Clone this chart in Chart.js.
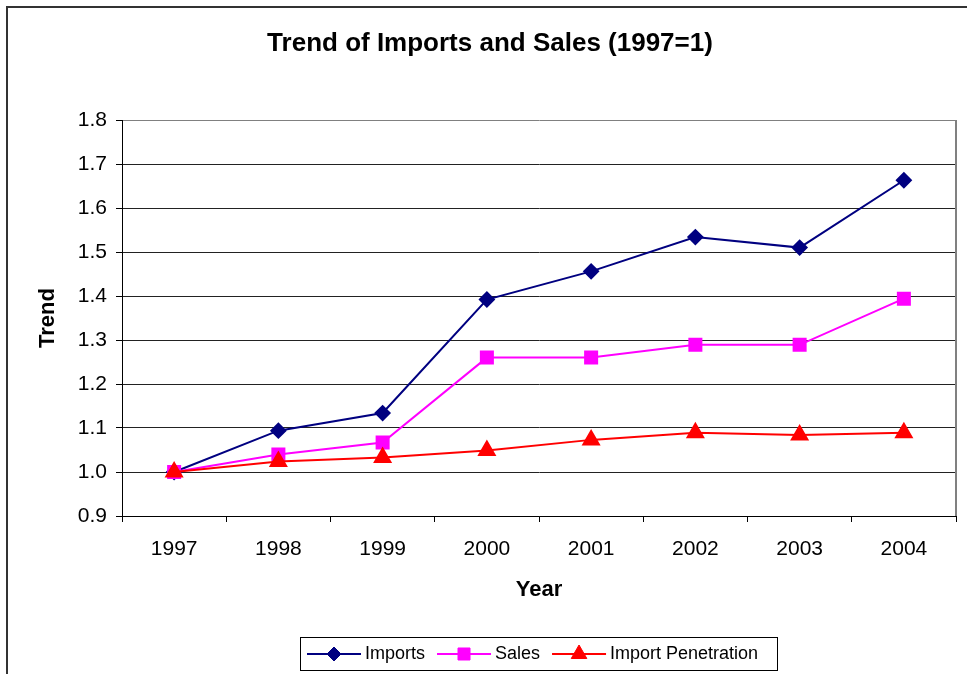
<!DOCTYPE html>
<html>
<head>
<meta charset="utf-8">
<script src="https://cdn.jsdelivr.net/npm/chart.js@4"></script>
<style>
  html, body { margin: 0; padding: 0; background: #fff; }
  canvas { display: block; }
</style>
</head>
<body>
<canvas id="trend-chart" width="967" height="674"></canvas>
<script>
var chartTitle = "Trend of Imports and Sales (1997=1)";
var years = ["1997", "1998", "1999", "2000", "2001", "2002", "2003", "2004"]; // categories
var imports = [1.0, 1.094, 1.134, 1.392, 1.456, 1.534, 1.51, 1.663];
var sales = [1.0, 1.04, 1.067, 1.26, 1.26, 1.289, 1.289, 1.394];
var penetration = [1.0, 1.024, 1.033, 1.049, 1.073, 1.089, 1.084, 1.089];
var yTicks = [0.9, 1.0, 1.1, 1.2, 1.3, 1.4, 1.5, 1.6, 1.7, 1.8];

var fontFamily = "'Liberation Sans', Arial, sans-serif";

// outer border, title, plot-area right edge and the excel-like legend box
var decorations = {
    id: "decorations",
    beforeDraw: function (chart) {
        var ctx = chart.ctx;
        ctx.save();
        ctx.fillStyle = "#fff";
        ctx.fillRect(0, 0, chart.width, chart.height);
        ctx.strokeStyle = "#333";
        ctx.lineWidth = 2;
        ctx.beginPath();
        ctx.moveTo(7, chart.height + 2);
        ctx.lineTo(7, 7);
        ctx.lineTo(chart.width + 2, 7);
        ctx.stroke();
        ctx.restore();
    },
    afterDraw: function (chart) {
        var ctx = chart.ctx;
        var area = chart.chartArea;
        ctx.save();

        // right edge of plot area
        ctx.strokeStyle = "#808080";
        ctx.lineWidth = 2;
        ctx.beginPath();
        ctx.moveTo(area.right, area.top);
        ctx.lineTo(area.right, area.bottom);
        ctx.stroke();

        // title
        ctx.fillStyle = "#000";
        ctx.font = "bold 26px " + fontFamily;
        ctx.textAlign = "center";
        ctx.textBaseline = "middle";
        ctx.fillText(chartTitle, 490, 44);

        // legend
        ctx.strokeStyle = "#000";
        ctx.lineWidth = 1;
        ctx.strokeRect(300.5, 637.5, 477, 33);
        ctx.font = "18px " + fontFamily;
        ctx.textAlign = "left";
        var x = 307, y = 654;
        chart.data.datasets.forEach(function (ds) {
            ctx.strokeStyle = ds.borderColor;
            ctx.lineWidth = 2;
            ctx.beginPath();
            ctx.moveTo(x, y);
            ctx.lineTo(x + 54, y);
            ctx.stroke();
            ctx.fillStyle = ds.backgroundColor;
            ctx.lineWidth = 1;
            Chart.helpers.drawPoint(ctx, {
                pointStyle: ds.pointStyle,
                radius: ds.pointRadius,
                rotation: 0,
                borderWidth: 1
            }, x + 27, y);
            ctx.fillStyle = "#000";
            ctx.fillText(ds.label, x + 58, y);
            x += 58 + ctx.measureText(ds.label).width + 12;
        });
        ctx.restore();
    }
};

var config = {
    type: "line",
    data: {
        labels: years,
        datasets: [{
            label: "Imports",
            data: imports,
            borderColor: "#000080",
            backgroundColor: "#000080",
            pointStyle: "rectRot",
            pointRadius: 7,
            borderWidth: 2,
            order: 3
        }, {
            label: "Sales",
            data: sales,
            borderColor: "#FF00FF",
            backgroundColor: "#FF00FF",
            pointStyle: "rect",
            pointRadius: 8.5,
            borderWidth: 2,
            order: 2
        }, {
            label: "Import Penetration",
            data: penetration,
            borderColor: "#FF0000",
            backgroundColor: "#FF0000",
            pointStyle: "triangle",
            pointRadius: 9,
            borderWidth: 2,
            order: 1
        }]
    },
    options: {
        responsive: false,
        animation: false,
        events: [],
        layout: { padding: { left: 35, top: 120, right: 9, bottom: 71 } },
        elements: {
            line: { tension: 0 },
            point: { borderWidth: 1, hoverRadius: 0 }
        },
        plugins: {
            legend: { display: false },
            title: { display: false },
            tooltip: { enabled: false }
        },
        scales: {
            x: {
                offset: true,
                grid: {
                    offset: true,
                    drawOnChartArea: false,
                    tickLength: 6,
                    color: "#000"
                },
                border: { color: "#000", width: 1 },
                ticks: {
                    color: "#000",
                    padding: 15,
                    maxRotation: 0,
                    font: { family: fontFamily, size: 21 }
                },
                title: {
                    display: true,
                    text: "Year",
                    color: "#000",
                    padding: 0,
                    font: { family: fontFamily, size: 22, weight: "bold" }
                },
                afterFit: function (scale) { scale.height = 87; }
            },
            y: {
                min: yTicks[0],
                max: yTicks[yTicks.length - 1],
                afterBuildTicks: function (scale) {
                    scale.ticks = yTicks.map(function (v) { return { value: v }; });
                },
                grid: {
                    tickLength: 6,
                    tickColor: "#000",
                    color: function (c) {
                        return c.tick && c.tick.value === 1.8 ? "#808080" : "#222";
                    }
                },
                border: { color: "#000", width: 1 },
                ticks: {
                    color: "#000",
                    padding: 9,
                    font: { family: fontFamily, size: 21 },
                    callback: function (v) { return Number(v).toFixed(1); }
                },
                title: {
                    display: true,
                    text: "Trend",
                    color: "#000",
                    padding: 0,
                    font: { family: fontFamily, size: 22, weight: "bold" }
                },
                afterFit: function (scale) { scale.width = 87; }
            }
        }
    },
    plugins: [decorations]
};

var trendChart = new Chart(document.getElementById("trend-chart"), config);
</script>
</body>
</html>
